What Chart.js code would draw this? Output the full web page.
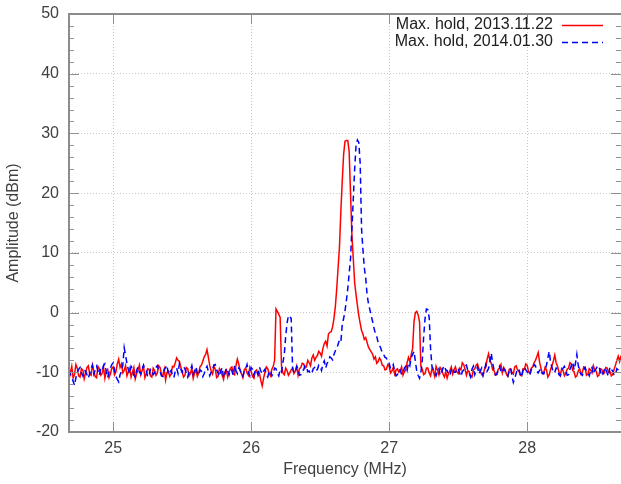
<!DOCTYPE html>
<html>
<head>
<meta charset="utf-8">
<script src="https://cdn.jsdelivr.net/npm/chart.js@4.4.1/dist/chart.umd.min.js"></script>
<style>
  html, body { margin: 0; padding: 0; background: #fff; }
  #chart { display: block; }
</style>
</head>
<body>
<canvas id="chart" width="621" height="484"></canvas>
<script>
// sweep: 24.68 .. 28.68 MHz, 401 points
const START_MHZ = 24.68;
const STEP_MHZ = 0.01;

const labels = ['Max. hold, 2013.11.22', 'Max. hold, 2014.01.30'];

// trace 1 (dBm), one row = 0.2 MHz
const hold2013 = [
  -11.2, -10.1, -9.0, -11.0, -10.4, -8.7, -9.3, -10.6, -10.8, -9.4, -9.6, -11.1, -10.1, -9.2, -8.9, -10.3, -10.5, -8.8, -9.8, -10.7,
  -10.9, -9.0, -9.4, -10.5, -10.2, -9.1, -11.0, -9.8, -9.5, -10.9, -10.3, -9.3, -9.1, -10.4, -9.9, -8.6, -7.8, -9.2, -8.6, -10.1,
  -9.7, -8.9, -10.6, -9.9, -9.3, -10.8, -10.0, -9.2, -11.1, -10.2, -9.6, -8.8, -10.4, -9.7, -9.0, -10.9, -10.2, -9.4, -9.5, -10.6,
  -10.8, -9.3, -9.7, -10.5, -10.1, -8.9, -9.2, -10.4, -10.6, -9.5, -11.3, -10.0, -9.8, -10.7, -10.3, -9.0, -9.1, -8.4, -7.6, -8.0,
  -8.2, -9.1, -9.9, -10.8, -10.5, -9.2, -9.4, -10.6, -10.2, -9.3, -11.0, -10.1, -9.6, -10.7, -10.1, -9.0, -8.8, -8.1, -7.4, -7.0,
  -6.2, -7.5, -8.9, -9.8, -10.3, -9.0, -9.5, -10.9, -10.7, -9.4, -9.8, -10.5, -11.2, -9.9, -9.6, -10.8, -10.0, -9.3, -9.1, -10.2,
  -10.4, -8.9, -7.8, -8.6, -9.7, -10.3, -10.9, -9.6, -9.3, -10.1, -10.5, -9.2, -9.9, -10.7, -11.0, -9.8, -9.6, -10.6, -10.2, -11.4,
  -12.3, -11.0, -10.0, -9.1, -9.4, -10.2, -10.6, -9.5, -9.0, -8.0, 0.6, 0.2, -0.3, -0.8, -9.0, -10.1, -10.4, -9.3, -9.7, -10.5,
  -10.1, -9.6, -9.3, -10.2, -9.8, -9.0, -10.5, -9.4, -9.2, -8.5, -8.6, -9.3, -9.1, -8.0, -8.4, -8.9, -7.6, -7.1, -8.0, -7.5,
  -7.2, -6.5, -6.8, -7.3, -6.0, -5.2, -4.8, -5.6, -3.6, -3.3, -3.2, -2.4, -1.0, 1.0, 4.0, 7.5, 11.0, 17.0, 22.0, 26.5,
  28.7, 28.8, 28.8, 27.0, 20.0, 13.0, 9.0, 5.0, 3.0, 1.2, -0.5, -1.8, -3.0, -3.6, -4.5, -4.2, -5.0, -5.8, -6.2, -6.6,
  -7.0, -7.8, -7.4, -8.5, -8.2, -7.6, -8.0, -8.8, -8.9, -9.6, -9.5, -8.7, -9.0, -10.1, -9.8, -9.2, -10.3, -9.6, -9.4, -10.0,
  -9.8, -9.1, -10.5, -9.9, -9.6, -8.4, -7.5, -8.2, -7.0, -6.0, -1.5, 0.0, 0.2, -0.4, -1.5, -9.0, -9.5, -10.4, -10.2, -9.3,
  -9.3, -10.1, -10.6, -9.4, -9.8, -10.7, -9.0, -9.6, -10.4, -9.2, -9.5, -10.3, -10.8, -9.9, -11.0, -10.2, -9.7, -9.1, -10.3, -9.6,
  -9.1, -9.9, -10.2, -9.3, -9.6, -8.4, -8.7, -9.5, -10.5, -9.7, -9.9, -10.6, -10.8, -9.6, -9.4, -8.8, -8.6, -9.4, -9.8, -10.4,
  -10.6, -9.5, -9.2, -7.8, -6.9, -8.0, -8.5, -9.6, -9.7, -10.5, -10.4, -9.5, -9.3, -8.7, -10.1, -9.2, -9.6, -10.3, -10.7, -9.5,
  -9.4, -10.0, -10.3, -9.1, -8.9, -9.6, -9.8, -10.5, -10.6, -9.4, -9.5, -8.6, -8.8, -9.9, -10.2, -9.3, -9.1, -8.4, -8.0, -7.4,
  -6.7, -8.3, -9.3, -10.2, -10.1, -9.2, -9.6, -10.8, -10.4, -9.5, -8.9, -8.1, -7.1, -8.4, -9.0, -9.9, -10.5, -9.4, -9.7, -10.6,
  -10.2, -9.5, -9.3, -8.4, -8.6, -9.7, -9.9, -10.8, -10.6, -9.8, -9.4, -10.3, -10.0, -9.1, -9.2, -10.5, -10.3, -9.4, -9.6, -10.1,
  -8.9, -9.6, -9.8, -10.7, -10.5, -9.4, -9.5, -10.3, -10.1, -9.2, -9.3, -10.0, -9.9, -10.6, -10.4, -9.5, -8.8, -8.0, -7.3, -8.2,
  -7.2
];

// trace 2 (dBm), one row = 0.2 MHz
const hold2014 = [
  -9.6, -10.3, -10.8, -11.5, -12.2, -10.9, -10.0, -9.5, -9.2, -10.1, -10.6, -9.7, -9.8, -10.4, -11.0, -10.2, -9.4, -8.8, -10.3, -9.6,
  -9.0, -9.8, -10.5, -9.4, -9.7, -8.9, -8.6, -9.9, -10.9, -10.0, -9.3, -8.7, -8.4, -9.6, -10.7, -11.2, -11.6, -10.4, -9.9, -8.8,
  -5.9, -7.2, -8.5, -9.6, -10.2, -9.0, -9.4, -10.5, -10.8, -9.7, -9.1, -9.9, -10.3, -9.4, -8.8, -9.6, -9.7, -10.8, -10.6, -9.5,
  -9.5, -10.4, -10.1, -9.2, -8.9, -9.7, -9.8, -10.6, -10.7, -9.6, -9.2, -8.8, -10.4, -10.0, -9.7, -10.5, -10.9, -9.8, -9.3, -10.2,
  -8.6, -9.5, -10.0, -9.1, -9.4, -10.2, -10.8, -9.9, -9.6, -8.9, -10.3, -9.7, -9.1, -10.1, -10.5, -9.6, -9.8, -10.7, -10.2, -9.4,
  -9.0, -9.9, -10.6, -10.0, -9.5, -8.8, -8.7, -9.6, -10.1, -10.7, -9.8, -9.2, -10.9, -10.3, -9.3, -9.8, -10.4, -9.5, -9.7, -10.5,
  -8.8, -9.7, -10.2, -9.3, -9.6, -10.4, -10.7, -9.8, -9.4, -8.7, -10.0, -10.6, -9.2, -9.5, -10.5, -9.6, -9.9, -10.3, -9.1, -9.8,
  -10.3, -9.8, -9.5, -10.4, -10.8, -9.9, -9.7, -10.6, -10.1, -9.3, -9.4, -10.2, -10.6, -9.5, -9.9, -8.4, -7.0, -4.0, -1.8, -0.5,
  -0.6, -1.0, -9.2, -10.1, -10.0, -9.0, -9.3, -10.5, -10.4, -9.7, -9.6, -8.9, -9.0, -9.9, -9.8, -10.3, -10.1, -9.4, -9.2, -9.8,
  -9.5, -8.8, -9.0, -9.7, -8.6, -8.1, -9.3, -8.5, -8.2, -7.4, -7.6, -7.9, -7.0, -6.4, -6.0, -5.3, -4.6, -4.9, -2.0, -1.0,
  0.3, 2.0, 4.0, 6.5, 9.0, 14.0, 19.0, 24.0, 28.0, 28.9, 28.5, 25.0, 14.0, 10.5, 7.5, 5.8, 3.0, 1.5, 0.5, -0.5,
  -1.5, -2.6, -3.5, -4.0, -5.0, -5.5, -6.0, -6.8, -7.0, -7.5, -7.6, -8.3, -8.5, -9.4, -9.2, -8.7, -9.8, -10.6, -10.4, -9.6,
  -9.6, -10.4, -10.2, -9.3, -9.0, -9.7, -8.4, -8.9, -7.5, -7.0, -6.5, -8.2, -9.8, -10.5, -11.0, -10.0, -8.0, -4.0, -1.0, 0.6,
  0.5, -0.8, -6.0, -9.0, -9.5, -10.2, -10.6, -9.8, -9.4, -10.5, -10.1, -9.3, -8.9, -9.6, -9.7, -10.4, -10.5, -9.6, -9.2, -10.0,
  -10.0, -9.4, -9.3, -10.1, -10.7, -9.9, -9.6, -8.9, -8.8, -9.7, -10.2, -10.8, -9.5, -9.0, -10.4, -9.8, -9.1, -10.3, -9.8, -9.3,
  -10.5, -9.6, -8.7, -9.8, -9.4, -8.2, -6.8, -8.5, -9.6, -10.4, -10.3, -9.5, -9.0, -9.9, -10.1, -9.4, -9.7, -10.3, -10.6, -9.8,
  -9.3, -10.6, -11.7, -11.0, -10.2, -9.4, -9.5, -10.3, -10.8, -9.7, -9.1, -9.6, -9.9, -10.5, -10.4, -9.5, -9.6, -8.7, -8.9, -9.8,
  -10.1, -9.7, -9.4, -10.2, -10.3, -9.5, -8.8, -7.6, -6.5, -8.4, -9.2, -10.1, -10.0, -9.3, -9.5, -10.4, -10.6, -9.8, -9.3, -9.0,
  -9.8, -10.5, -10.4, -9.5, -8.9, -8.3, -9.6, -8.5, -7.0, -8.8, -9.9, -10.3, -10.5, -9.6, -9.2, -9.9, -10.1, -10.6, -9.7, -9.2,
  -10.3, -9.7, -9.4, -8.9, -9.0, -9.8, -10.6, -10.1, -9.5, -9.2, -10.2, -10.7, -9.1, -9.5, -9.8, -10.5, -10.4, -9.4, -9.6, -10.0,
  -9.9
];

const xTicks = [25, 26, 27, 28];
const yTicks = [-20, -10, 0, 10, 20, 30, 40, 50];

const FONT = '"Liberation Sans", Arial, sans-serif';
const TEXT = '#404040';

function toPoints(vals) {
  return vals.map((v, i) => ({ x: START_MHZ + i * STEP_MHZ, y: v }));
}

// gnuplot style frame, inward ticks and key
const frame = {
  id: 'frame',
  afterDatasetsDraw(chart) {
    const { ctx, chartArea: a, scales } = chart;
    const xs = scales.x, ys = scales.y;
    ctx.save();
    ctx.strokeStyle = '#909090';
    ctx.lineWidth = 1;
    // y ticks, major + minor (every 2)
    for (let v = yTicks[0]; v <= yTicks[yTicks.length - 1]; v += 2) {
      const y = Math.round(ys.getPixelForValue(v)) + 0.5;
      const len = v % 10 === 0 ? 10 : 5;
      ctx.beginPath();
      ctx.moveTo(a.left, y); ctx.lineTo(a.left + len, y);
      ctx.moveTo(a.right, y); ctx.lineTo(a.right - len, y);
      ctx.stroke();
    }
    xTicks.forEach(v => {
      const x = Math.round(xs.getPixelForValue(v)) + 0.5;
      ctx.beginPath();
      ctx.moveTo(x, a.bottom); ctx.lineTo(x, a.bottom - 10);
      ctx.moveTo(x, a.top); ctx.lineTo(x, a.top + 10);
      ctx.stroke();
    });
    // border
    ctx.strokeStyle = '#8c8c8c';
    ctx.lineWidth = 2;
    ctx.beginPath();
    ctx.moveTo(a.right, a.top);
    ctx.lineTo(a.left, a.top);
    ctx.lineTo(a.left, a.bottom);
    ctx.lineTo(a.right, a.bottom);
    ctx.stroke();

    // key
    ctx.font = '16px ' + FONT;
    ctx.fillStyle = '#202020';
    ctx.textAlign = 'right';
    ctx.textBaseline = 'middle';
    chart.data.datasets.forEach((ds, i) => {
      const y = 25 + i * 17;
      ctx.fillText(ds.label, 553, y);
      ctx.strokeStyle = ds.borderColor;
      ctx.lineWidth = ds.borderWidth;
      ctx.setLineDash(ds.borderDash || []);
      ctx.beginPath();
      ctx.moveTo(562, y + 0.5);
      ctx.lineTo(603, y + 0.5);
      ctx.stroke();
      ctx.setLineDash([]);
    });
    ctx.restore();
  }
};

new Chart(document.getElementById('chart'), {
  type: 'line',
  data: {
    datasets: [
      {
        label: labels[0],
        data: toPoints(hold2013),
        borderColor: '#ff0000',
        borderWidth: 1.5,
        pointRadius: 0,
        tension: 0,
        order: 1
      },
      {
        label: labels[1],
        data: toPoints(hold2014),
        borderColor: '#0000ff',
        borderWidth: 1.5,
        borderDash: [6, 4],
        pointRadius: 0,
        tension: 0,
        order: 0
      }
    ]
  },
  options: {
    responsive: false,
    animation: false,
    layout: { padding: { top: 14, right: 0, left: 0, bottom: 0 } },
    plugins: { legend: { display: false }, tooltip: { enabled: false } },
    scales: {
      x: {
        type: 'linear',
        min: 24.68,
        max: 28.68,
        afterFit: s => { s.height = 52; s.paddingLeft = 0; s.paddingRight = 0; },
        afterBuildTicks: s => { s.ticks = xTicks.map(v => ({ value: v })); },
        ticks: { font: { family: FONT, size: 16 }, color: TEXT, padding: 7 },
        grid: { color: '#c8c8c8', drawTicks: false },
        border: { display: false, dash: [1, 2] },
        title: {
          display: true,
          text: 'Frequency (MHz)',
          font: { family: FONT, size: 16 },
          color: TEXT,
          padding: { top: 0, bottom: 5 }
        }
      },
      y: {
        min: -20,
        max: 50,
        afterFit: s => { s.width = 69; s.paddingTop = 0; s.paddingBottom = 0; },
        afterBuildTicks: s => { s.ticks = yTicks.map(v => ({ value: v })); },
        ticks: { font: { family: FONT, size: 16 }, color: TEXT, padding: 10 },
        grid: { color: '#c8c8c8', drawTicks: false },
        border: { display: false, dash: [1, 2] },
        title: {
          display: true,
          text: 'Amplitude (dBm)',
          font: { family: FONT, size: 16 },
          color: TEXT,
          padding: { top: 4, bottom: 0 }
        }
      }
    }
  },
  plugins: [frame]
});
</script>
</body>
</html>
